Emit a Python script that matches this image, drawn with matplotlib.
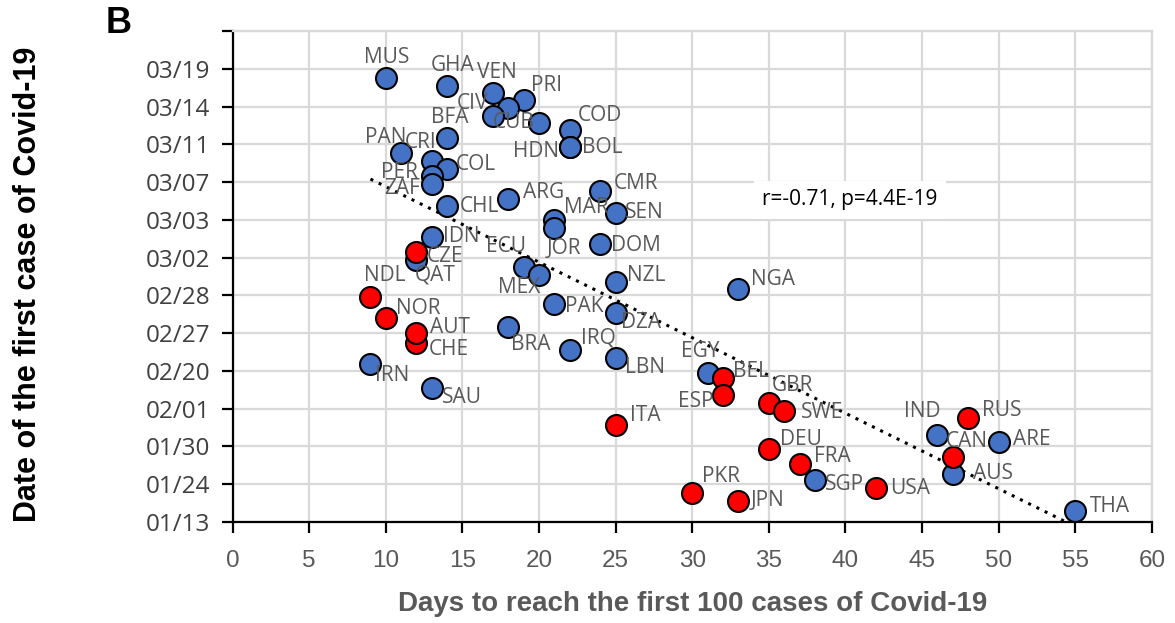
import numpy as np
import matplotlib
matplotlib.use("Agg")
import matplotlib.pyplot as plt

# y positions are in "tick steps" (the date axis is evenly spaced labels)
date_labels = ["01/13", "01/24", "01/30", "02/01", "02/20", "02/27", "02/28",
               "03/02", "03/03", "03/07", "03/11", "03/14", "03/19", ""]

# blue countries
blue_names = ["MUS", "GHA", "VEN", "PRI", "", "CIV", "CUB", "COD", "HDN", "BOL",
              "BFA", "PAN", "CRI", "COL", "PER", "ZAF", "ARG", "CMR", "CHL", "MAR",
              "JOR", "SEN", "IDN", "QAT", "ECU", "MEX", "DOM", "NZL", "NGA", "PAK",
              "DZA", "BRA", "IRQ", "LBN", "IRN", "SAU", "EGY", "SGP", "IND", "ARE",
              "AUS", "THA"]
blue_days = [10, 14, 17, 19, 18, 17, 20, 22, 22, 22,
             14, 11, 13, 14, 13, 13, 18, 24, 14, 21,
             21, 25, 13, 12, 19, 20, 24, 25, 33, 21,
             25, 18, 22, 25, 9, 13, 31, 38, 46, 50,
             47, 55]
blue_date = [11.76, 11.55, 11.36, 11.18, 10.97, 10.76, 10.57, 10.38, 9.94, 9.94,
             10.17, 9.77, 9.56, 9.35, 9.17, 8.95, 8.56, 8.77, 8.37, 8.00,
             7.79, 8.19, 7.55, 6.94, 6.76, 6.54, 7.36, 6.36, 6.17, 5.77,
             5.54, 5.17, 4.56, 4.34, 4.18, 3.55, 3.95, 1.11, 2.31, 2.12,
             1.28, 0.28]
# label offsets (pixels) from the marker
blue_off = [(1, 20), (6, 20), (4, 20), (23, 14), (0, 0), (-21, 12), (-25, 0), (30, 14), (-34, -5), (33, -1),
            (3, 20), (-15, 16), (-11, 18), (29, 4), (-32, 3), (-30, -5), (35, 6), (36, 7), (32, -1), (32, 12),
            (10, -21), (29, 0), (30, 0), (19, -15), (-18, 20), (-20, -12), (36, -1), (31, 6), (35, 9), (30, -2),
            (25, -10), (22, -18), (29, 12), (29, -9), (22, -11), (30, -10), (-7, 21), (30, -4), (-15, 23), (33, 2),
            (40, 0), (35, 5)]

# red countries
red_names = ["CZE", "NDL", "NOR", "CHE", "AUT", "BEL", "ESP", "ITA", "PKR", "JPN",
             "GBR", "SWE", "DEU", "FRA", "USA", "RUS", "CAN"]
red_days = [12, 9, 10, 12, 12, 32, 32, 25, 30, 33,
            35, 36, 35, 37, 42, 48, 47]
red_date = [7.15, 5.96, 5.40, 4.74, 5.01, 3.81, 3.36, 2.57, 0.77, 0.56,
            3.14, 2.93, 1.93, 1.54, 0.90, 2.75, 1.73]
red_off = [(29, -5), (14, 21), (32, 10), (32, -7), (34, 5), (28, 7), (-27, -6), (30, 9), (29, 16), (29, 0),
           (24, 18), (38, -1), (32, 10), (33, 7), (34, 0), (34, 8), (14, 15)]

# dotted trend line
trend_slope = -0.2
trend_intercept = 10.88
stats_text = "r=-0.71, p=4.4E-19"

fig = plt.figure(figsize=(11.75, 6.23), dpi=100)
ax = fig.add_axes([0.1979, 0.1621, 0.7825, 0.7881])

grid_c = "#d9d9d9"
label_c = "#595959"

ax.set_xlim(0, 60)
ax.set_ylim(0, 13)
ax.set_xticks(np.arange(0, 61, 5))
ax.set_yticks(np.arange(0, 14))
ax.set_yticklabels(date_labels)
ax.grid(True, color=grid_c, lw=1.6, zorder=0)
ax.set_axisbelow(True)

for s in ["top", "right"]:
    ax.spines[s].set_color(grid_c)
    ax.spines[s].set_linewidth(1.6)
for s in ["left", "bottom"]:
    ax.spines[s].set_color("black")
    ax.spines[s].set_linewidth(1.6)

ax.tick_params(axis="both", direction="out", length=8, width=1.6, color="black")
ax.tick_params(axis="y", labelsize=17.5, labelcolor="#404040", pad=8)
ax.tick_params(axis="x", labelsize=17.5, labelcolor=label_c, pad=12)
for t in ax.get_yticklabels():
    t.set_family(["Open Sans", "DejaVu Sans"])
for t in ax.get_xticklabels():
    t.set_family(["Liberation Sans Narrow", "Liberation Sans"])

# trend line
all_days = blue_days + red_days
tx = np.array([min(all_days), max(all_days)])
ax.plot(tx, trend_slope * tx + trend_intercept, color="black", lw=2.2,
        linestyle=(0, (1, 2)), zorder=2, clip_on=True)

ax.scatter(blue_days, blue_date, s=228, color="#4472C4", edgecolor="black",
           linewidth=1.5, zorder=3)
ax.scatter(red_days, red_date, s=228, color="#FF0000", edgecolor="black",
           linewidth=1.5, zorder=4)

for names, xs, ys, offs in [(blue_names, blue_days, blue_date, blue_off),
                            (red_names, red_days, red_date, red_off)]:
    for n, x, y, o in zip(names, xs, ys, offs):
        if not n:
            continue
        ax.annotate(n, (x, y), xytext=o, textcoords="offset pixels",
                    ha="center", va="center", fontsize=15, color=label_c,
                    family=["Open Sans", "DejaVu Sans"], zorder=5)

ax.text(40.3, 8.53, stats_text, ha="center", va="center", fontsize=15,
        color="black", family=["Open Sans", "DejaVu Sans"], zorder=6,
        bbox=dict(facecolor="white", edgecolor="none", pad=6))

ax.set_xlabel("Days to reach the first 100 cases of Covid-19", fontsize=20,
              fontweight="bold", color=label_c,
              family=["Liberation Sans Narrow", "Liberation Sans"], labelpad=14)
fig.text(0.0238, 0.543, "Date of the first case of Covid-19", rotation=90,
         ha="center", va="center", fontsize=22, fontweight="bold",
         color="black", family=["Liberation Sans", "DejaVu Sans"])
fig.text(0.101, 0.962, "B", ha="center", va="center", fontsize=26,
         fontweight="bold", color="black", family=["Liberation Sans", "DejaVu Sans"])

fig.savefig("out.png", dpi=100)
